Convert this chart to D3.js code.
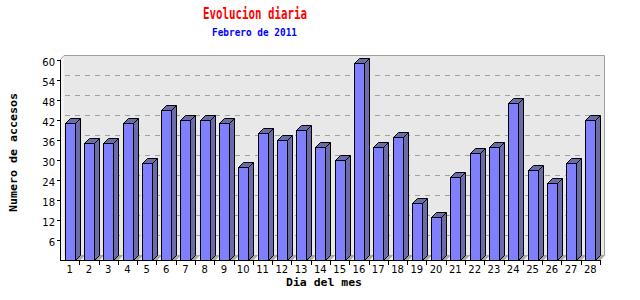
<!DOCTYPE html>
<html>
<head>
<meta charset="utf-8">
<script src="https://cdn.jsdelivr.net/npm/d3@7"></script>
<style>
  body { margin: 0; background: #fff; }
  svg { display: block; }
</style>
</head>
<body>
<svg></svg>
<script>
const days = d3.range(1, 29).map(String);
const visits = [41, 35, 35, 41, 29, 45, 42, 42, 41, 28, 38, 36, 39, 34, 30, 59, 34, 37, 17, 13, 25, 32, 34, 47, 27, 23, 29, 42];
const yTicks = [6, 12, 18, 24, 30, 36, 42, 48, 54, 60];

const width = 640;
const height = 300;
const plotLeft = 60, plotRight = 600, plotTop = 60, plotBottom = 260;
const depth = 5;

const svg = d3.select('svg').attr('width', width).attr('height', height);

const x = d3.scaleBand().domain(days).range([plotLeft, plotRight]);
const y = d3.scaleLinear().domain([0, 60]).range([plotBottom, plotTop]);
const barW = 10;

// left wall and floor
svg.append('path')
    .attr('d', `M${plotLeft},${plotTop} L${plotLeft + depth},${plotTop - depth} L${plotLeft + depth},${plotBottom - depth} L${plotLeft},${plotBottom} Z`)
    .attr('fill', '#f2f2f2');
svg.append('path')
    .attr('d', `M${plotLeft},${plotBottom} L${plotLeft + depth},${plotBottom - depth} L${plotRight + depth},${plotBottom - depth} L${plotRight},${plotBottom} Z`)
    .attr('fill', '#f2f2f2');

// back plane
svg.append('rect')
    .attr('x', plotLeft + depth - 1).attr('y', plotTop - depth)
    .attr('width', plotRight - plotLeft).attr('height', plotBottom - plotTop)
    .attr('fill', '#e8e8e8');
svg.append('path')
    .attr('d', `M${plotLeft},${plotTop} L${plotLeft + depth - 1},${plotTop - depth + 0.5} L${plotRight + depth - 0.5},${plotTop - depth + 0.5} L${plotRight + depth - 0.5},${plotBottom - depth}`)
    .attr('fill', 'none').attr('stroke', '#a0a0a0');

// grid on back plane
svg.append('g').selectAll('line').data(yTicks.filter(d => d < 60))
    .enter().append('line')
    .attr('x1', plotLeft + depth).attr('x2', plotRight + depth - 2)
    .attr('y1', d => Math.round(y(d)) - depth + 0.5)
    .attr('y2', d => Math.round(y(d)) - depth + 0.5)
    .attr('stroke', '#a0a0a0')
    .attr('stroke-dasharray', '5,5');

// bars
const bars = svg.append('g').selectAll('g').data(days)
    .enter().append('g');

bars.append('path')
    .attr('d', function(d) {
        const x0 = Math.round(x(d) + (x.bandwidth() - barW) / 2) + 0.5;
        return `M${x0 + barW},${plotBottom} L${x0 + barW + depth},${plotBottom - depth} L${x0 + barW + 2 * depth},${plotBottom - depth} L${x0 + barW + depth},${plotBottom} Z`;
    })
    .attr('fill', '#a8a8a8');

bars.each(function(d, i) {
    const g = d3.select(this);
    const x0 = Math.round(x(d) + (x.bandwidth() - barW) / 2) + 0.5;
    const y0 = Math.round(y(visits[i])) + 0.5;
    const x1 = x0 + barW;
    const y1 = plotBottom + 0.5;
    g.append('path')
        .attr('d', `M${x0},${y0} L${x0 + depth},${y0 - depth} L${x1 + depth},${y0 - depth} L${x1 + depth},${y1 - depth} L${x1},${y1} L${x1},${y0} Z`)
        .attr('fill', '#6b6ba8').attr('stroke', '#000').attr('stroke-width', 1);
    g.append('line')
        .attr('x1', x1).attr('y1', y0).attr('x2', x1 + depth).attr('y2', y0 - depth)
        .attr('stroke', '#000');
    g.append('rect')
        .attr('x', x0).attr('y', y0)
        .attr('width', barW).attr('height', y1 - y0)
        .attr('fill', '#8080ff').attr('stroke', '#000');
});

// axes
const axisG = svg.append('g').attr('font-family', '"DejaVu Sans", sans-serif').attr('font-size', 10);
axisG.append('line')
    .attr('x1', plotLeft + 0.5).attr('x2', plotLeft + 0.5).attr('y1', plotTop).attr('y2', plotBottom + 1)
    .attr('stroke', '#000');
axisG.append('line')
    .attr('x1', plotLeft).attr('x2', plotRight).attr('y1', plotBottom + 0.5).attr('y2', plotBottom + 0.5)
    .attr('stroke', '#000');

axisG.selectAll('.ytick').data(yTicks).enter().append('line')
    .attr('x1', plotLeft - 3).attr('x2', plotLeft)
    .attr('y1', d => Math.round(y(d)) + 0.5).attr('y2', d => Math.round(y(d)) + 0.5)
    .attr('stroke', '#000');
axisG.selectAll('.ylab').data(yTicks).enter().append('text')
    .attr('x', plotLeft - 5).attr('y', d => y(d) + 6)
    .attr('text-anchor', 'end')
    .text(d => d);

axisG.selectAll('.xtick').data(days.slice(1).concat(['end'])).enter().append('line')
    .attr('x1', d => d === 'end' ? plotRight + 0.5 : Math.round(x(d)) + 0.5)
    .attr('x2', d => d === 'end' ? plotRight + 0.5 : Math.round(x(d)) + 0.5)
    .attr('y1', plotBottom).attr('y2', plotBottom + 5)
    .attr('stroke', '#000');
axisG.selectAll('.xlab').data(days).enter().append('text')
    .attr('x', d => x(d) + x.bandwidth() / 2)
    .attr('y', plotBottom + 13)
    .attr('text-anchor', 'middle')
    .text(d => d);

// titles
const mono = '"DejaVu Sans Mono", monospace';
svg.append('text')
    .attr('x', 203).attr('y', 19)
    .attr('font-family', mono).attr('font-weight', 'bold').attr('font-size', 15)
    .attr('fill', '#ff0000')
    .attr('textLength', 104).attr('lengthAdjust', 'spacingAndGlyphs')
    .text('Evolucion diaria');
svg.append('text')
    .attr('x', 212).attr('y', 36)
    .attr('font-family', mono).attr('font-weight', 'bold').attr('font-size', 11)
    .attr('fill', '#0000ff')
    .attr('textLength', 85).attr('lengthAdjust', 'spacingAndGlyphs')
    .text('Febrero de 2011');
svg.append('text')
    .attr('x', 286).attr('y', 286)
    .attr('font-family', mono).attr('font-weight', 'bold').attr('font-size', 11)
    .attr('fill', '#000')
    .attr('textLength', 76).attr('lengthAdjust', 'spacingAndGlyphs')
    .text('Dia del mes');
svg.append('text')
    .attr('transform', 'translate(17, 212) rotate(-90)')
    .attr('font-family', mono).attr('font-weight', 'bold').attr('font-size', 11)
    .attr('fill', '#000')
    .attr('textLength', 119).attr('lengthAdjust', 'spacingAndGlyphs')
    .text('Numero de accesos');
</script>
</body>
</html>
